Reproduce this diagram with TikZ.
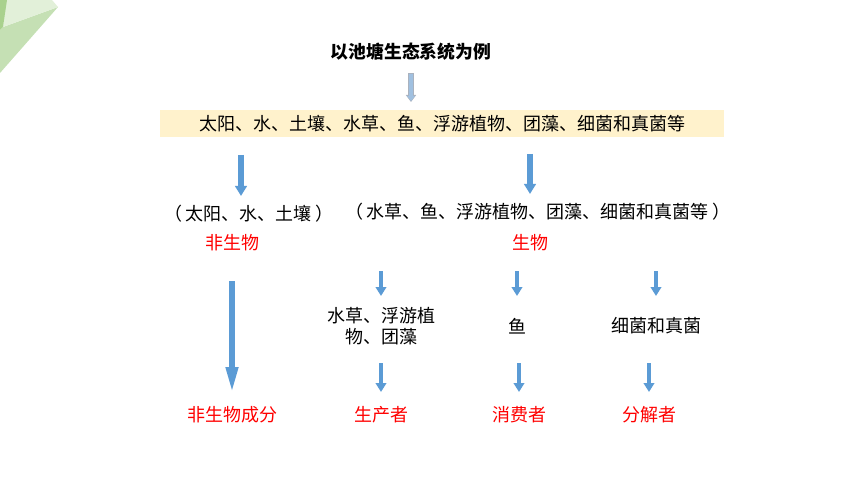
\documentclass[tikz,border=0pt]{standalone}
\usepackage{fontspec}
\usepackage{tikz}
\usetikzlibrary{arrows.meta,calc}
\newfontfamily\cjk{Noto Sans CJK SC}
\definecolor{pd_blue}{RGB}{91,155,213}
\definecolor{pd_lblue}{RGB}{160,192,224}
\definecolor{pd_edge}{RGB}{170,178,190}
\definecolor{pd_yellow}{RGB}{255,242,204}
\definecolor{pd_red}{RGB}{255,0,0}
\definecolor{gr_a}{RGB}{226,240,217}
\definecolor{gr_b}{RGB}{197,224,180}
\definecolor{gr_c}{RGB}{169,209,142}
\tikzstyle{tx}=[inner sep=0pt,align=center,
  font=\cjk\fontsize{18}{20.5}\selectfont]
\tikzstyle{rt}=[tx,text=pd_red]
\tikzstyle{hd}=[inner sep=0pt,font=\cjk\bfseries\fontsize{17.8}{20}\selectfont]
\tikzstyle{band}=[tx,fill=pd_yellow,minimum width=564pt,minimum height=27pt]
\tikzstyle{ar}=[draw=pd_blue,line width=5.5pt,-{Triangle[width=11.5pt,length=10pt]}]
\tikzstyle{bar}=[draw=pd_blue,line width=5.5pt,-{Triangle[width=11.5pt,length=26pt]}]
\tikzstyle{sar}=[draw=pd_blue,line width=4.5pt,-{Triangle[width=10.5pt,length=9pt]}]

\begin{document}
\begin{tikzpicture}[x=1pt,y=-1pt]
        \useasboundingbox (0,0) rectangle (860,484);
        % corner
        \fill[gr_b] (58,7) -- (3,27) -- (0,30) -- (0,73) -- cycle;
        \fill[gr_a] (6,0) -- (52,0) -- (58,7) -- (3,27) -- cycle;
        \fill[gr_c] (0,0) -- (7,0) -- (3,27) -- (0,30) -- cycle;

        \node [style=hd] (0) at (411,52) {以池塘生态系统为例};
        \node [style=band] (1) at (442,123.5) {太阳、水、土壤、水草、鱼、浮游植物、团藻、细菌和真菌等};
        \node [style=tx] (2) at (249,214) {（\hspace{4pt}太阳、水、土壤\hspace{4pt}）};
        \node [style=rt] (3) at (232,243) {非生物};
        \node [style=tx] (4) at (538,212) {（\hspace{4pt}水草、鱼、浮游植物、团藻、细菌和真菌等\hspace{4pt}）};
        \node [style=rt] (5) at (530,243) {生物};
        \node [style=tx] (6) at (381,326) {水草、浮游植\\物、团藻};
        \node [style=tx] (7) at (517,326) {鱼};
        \node [style=tx] (8) at (656,326) {细菌和真菌};
        \node [style=rt] (9) at (232,415) {非生物成分};
        \node [style=rt] (10) at (381,415) {生产者};
        \node [style=rt] (11) at (519,415) {消费者};
        \node [style=rt] (12) at (649,415) {分解者};
        \coordinate (c1) at (241,0);

        \draw [draw=pd_edge,line width=6pt,-{Triangle[width=10pt,length=7pt]},
          shorten <=21,shorten >=21.5] (0.center) -- (0.center |- 1.center);
        \draw [draw=pd_lblue,line width=4pt,-{Triangle[width=7.5pt,length=5pt]},
          shorten <=21.7,shorten >=22.5] (0.center) -- (0.center |- 1.center);
        \draw [style=ar,shorten <=31.5,shorten >=18] (1.center -| c1) to (2.center -| c1);
        \draw [style=ar,shorten <=30.5,shorten >=18] (1.center -| 5.center) to (4.center -| 5.center);
        \draw [style=bar,shorten <=38,shorten >=22] (3.center) to (9.center);
        \draw [style=sar,shorten <=28,shorten >=30] (5.center -| 6.center) to (6.center);
        \draw [style=sar,shorten <=28,shorten >=30] (5.center -| 7.center) to (7.center);
        \draw [style=sar,shorten <=28,shorten >=30] (5.center -| 8.center) to (8.center);
        \draw [style=sar,shorten <=37,shorten >=23] (6.center) to (10.center);
        \draw [style=sar,shorten <=37,shorten >=23] (7.center -| 11.center) to (11.center);
        \draw [style=sar,shorten <=37,shorten >=23] (8.center -| 12.center) to (12.center);
    \end{tikzpicture}
\end{document}
